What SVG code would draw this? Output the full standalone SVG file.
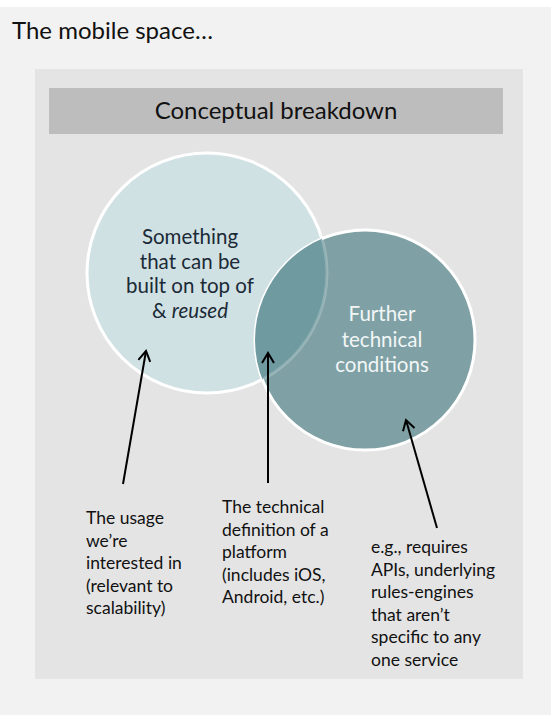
<svg xmlns="http://www.w3.org/2000/svg" width="551" height="715" viewBox="0 0 551 715">
<defs>
<style>
text{font-family:Lato,"Open Sans","Liberation Sans",sans-serif;}
.title{font-size:24px;fill:#111;}
.hdr{font-size:24px;fill:#111;text-anchor:middle;}
.ctxt{font-size:20.5px;fill:#1b2a36;text-anchor:middle;}
.wtxt{font-size:20.5px;fill:#f2f6f6;text-anchor:middle;}
.lbl{font-size:17.5px;fill:#111;}
.arrow{stroke:#000;stroke-width:2;fill:none;marker-end:url(#ah);}
</style>
<marker id="ah" markerUnits="userSpaceOnUse" viewBox="-12 -8 14 16" refX="0" refY="0" markerWidth="14" markerHeight="16" orient="auto">
<path d="M -10 -6 L 0 0 L -10 6" fill="none" stroke="#000" stroke-width="2"/>
</marker>
<clipPath id="rc"><circle cx="365" cy="340" r="110"/></clipPath>
</defs>
<rect x="0" y="0" width="551" height="715" fill="#f2f2f2"/>
<rect x="0" y="0" width="551" height="7" fill="#ffffff"/>
<text class="title" x="12" y="39">The mobile space…</text>
<rect x="35" y="69" width="488" height="610" fill="#e4e4e4"/>
<g id="header">
<rect x="49" y="88" width="454" height="46" fill="#bdbdbd"/>
<text class="hdr" x="276" y="119">Conceptual breakdown</text>
</g>
<g id="circle-left">
<circle cx="207" cy="273" r="120" fill="#d0e1e4" stroke="#ffffff" stroke-width="3"/>
<text class="ctxt" x="190" y="244">Something</text>
<text class="ctxt" x="190" y="268.5">that can be</text>
<text class="ctxt" x="190" y="293">built on top of</text>
<text class="ctxt" x="190" y="317.5">&amp; <tspan font-style="italic">reused</tspan></text>
</g>
<g id="circle-right">
<circle cx="365" cy="340" r="110" fill="#7fa1a5" stroke="#ffffff" stroke-width="3"/>
<circle cx="207" cy="273" r="120" fill="#6f9aa0" clip-path="url(#rc)"/>
<circle cx="207" cy="273" r="120" fill="none" stroke="#ffffff" stroke-opacity="0.22" stroke-width="3" clip-path="url(#rc)"/>
<text class="wtxt" x="382" y="321">Further</text>
<text class="wtxt" x="382" y="347">technical</text>
<text class="wtxt" x="382" y="372">conditions</text>
</g>
<g id="connectors">
<line class="arrow" x1="123" y1="484" x2="146" y2="351"/>
<line class="arrow" x1="268" y1="483" x2="268" y2="353"/>
<line class="arrow" x1="437" y1="528" x2="406" y2="420"/>
</g>
<g id="label-usage">
<text class="lbl" x="86" y="524">The usage</text>
<text class="lbl" x="86" y="546.5">we’re</text>
<text class="lbl" x="86" y="569">interested in</text>
<text class="lbl" x="86" y="591.5">(relevant to</text>
<text class="lbl" x="86" y="614">scalability)</text>
</g>
<g id="label-platform">
<text class="lbl" x="222" y="513">The technical</text>
<text class="lbl" x="222" y="535.5">definition of a</text>
<text class="lbl" x="222" y="558">platform</text>
<text class="lbl" x="222" y="580.5">(includes iOS,</text>
<text class="lbl" x="222" y="603">Android, etc.)</text>
</g>
<g id="label-conditions">
<text class="lbl" x="371" y="553">e.g., requires</text>
<text class="lbl" x="371" y="575.5">APIs, underlying</text>
<text class="lbl" x="371" y="598">rules-engines</text>
<text class="lbl" x="371" y="620.5">that aren’t</text>
<text class="lbl" x="371" y="643">specific to any</text>
<text class="lbl" x="371" y="665.5">one service</text>
</g>
</svg>
